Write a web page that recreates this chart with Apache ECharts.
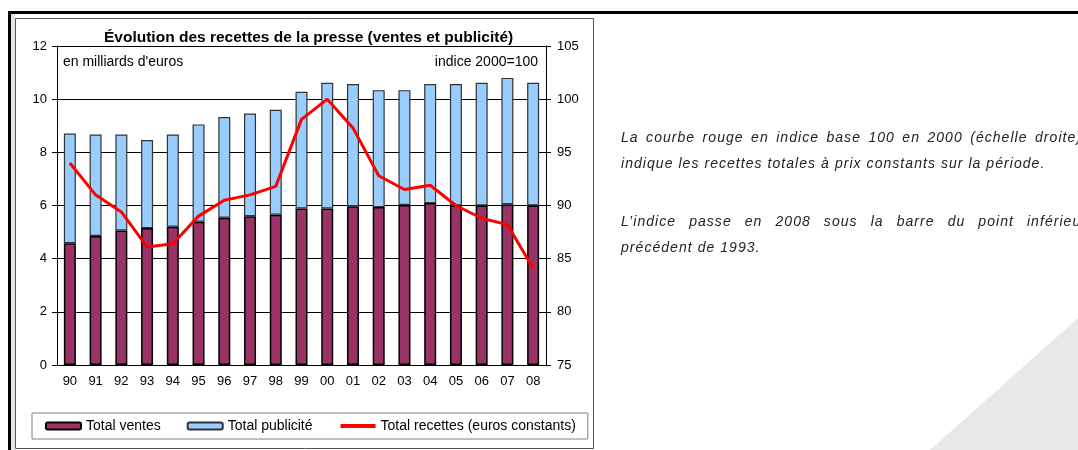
<!DOCTYPE html>
<html>
<head>
<meta charset="utf-8">
<script src="https://cdn.jsdelivr.net/npm/echarts@6/dist/echarts.min.js"></script>
<style>
  html, body { margin: 0; padding: 0; background: #fff; overflow: hidden; }
  #main { position: absolute; left: 0; top: 0; width: 1078px; height: 450px; }
  #note {
    position: absolute; left: 621px; top: 124px; width: 466px;
    font-family: 'Liberation Sans', Arial, sans-serif; font-style: italic;
    font-size: 14px; letter-spacing: 1.05px; color: #222; line-height: 26px;
  }
  #note .j { text-align: justify; text-align-last: justify; white-space: nowrap; }
  #note .gap { height: 32px; }
</style>
</head>
<body>
<div id="main"></div>
<div id="note">
  <div class="j">La courbe rouge en indice base 100 en 2000 (échelle droite),</div>
  <div>indique les recettes totales à prix constants sur la période.</div>
  <div class="gap"></div>
  <div class="j">L’indice passe en 2008 sous la barre du point inférieur</div>
  <div>précédent de 1993.</div>
</div>
<script>
// années
var years = ['90', '91', '92', '93', '94', '95', '96', '97', '98', '99',
             '00', '01', '02', '03', '04', '05', '06', '07', '08'];
// milliards d'euros
var ventes = [4.58, 4.85, 5.06, 5.15, 5.2, 5.39, 5.54, 5.6, 5.65, 5.89,
              5.89, 5.97, 5.94, 6.02, 6.09, 6.0, 6.0, 6.05, 6.0];
var publicite = [4.13, 3.82, 3.61, 3.31, 3.47, 3.66, 3.79, 3.86, 3.95, 4.39,
                 4.73, 4.6, 4.4, 4.32, 4.48, 4.57, 4.62, 4.75, 4.62];
// indice 2000=100, euros constants
var recettes = [94.0, 91.0, 89.4, 86.1, 86.4, 89.0, 90.5, 91.0, 91.8, 98.1,
                100.0, 97.3, 92.8, 91.5, 91.9, 90.0, 88.8, 88.2, 84.1];

var font = "'Liberation Sans', Arial, sans-serif";

var myChart = echarts.init(document.getElementById('main'));
var option = {
    animation: false,
    textStyle: {fontFamily: font},
    graphic: [
        // fond décoratif
        {type: 'polygon', silent: true, z: -10,
         shape: {points: [[930, 450], [1078, 318], [1078, 450]]},
         style: {fill: '#e8e8e8'}},
        // cadre
        {type: 'line', shape: {x1: 8, y1: 12.5, x2: 1078, y2: 12.5},
         style: {stroke: '#000', lineWidth: 3}},
        {type: 'line', shape: {x1: 9.5, y1: 11, x2: 9.5, y2: 450},
         style: {stroke: '#000', lineWidth: 3}},
        {type: 'rect', shape: {x: 11, y: 14, width: 4, height: 436},
         style: {fill: '#e4e4e4'}},
        {type: 'rect', shape: {x: 15.5, y: 18.5, width: 578, height: 430},
         style: {fill: 'none', stroke: '#555', lineWidth: 1}},
        // titres
        {type: 'text', left: 104, top: 30,
         style: {text: 'Évolution des recettes de la presse (ventes et publicité)',
                 font: 'bold 15.5px ' + font, fill: '#000'}},
        {type: 'text', left: 63, top: 55,
         style: {text: "en milliards d'euros", font: '14px ' + font, fill: '#000'}},
        {type: 'text', right: 1078 - 538, top: 55,
         style: {text: 'indice 2000=100', font: '14px ' + font, fill: '#000'}}
    ],
    legend: {
        left: 32, top: 413,
        borderColor: '#808080', borderWidth: 1,
        padding: [6, 12, 6, 13],
        itemWidth: 35, itemHeight: 7, itemGap: 26,
        textStyle: {fontSize: 14, color: '#000', fontFamily: font},
        data: [
            'Total ventes',
            'Total publicité',
            {name: 'Total recettes (euros constants)',
             itemStyle: {opacity: 0},
             lineStyle: {width: 4, color: '#ff0000'}}
        ]
    },
    grid: {left: 57, right: 1078 - 546, top: 46, bottom: 450 - 365},
    xAxis: {
        type: 'category',
        data: years,
        axisLine: {lineStyle: {color: '#000', width: 1}},
        axisTick: {length: 5, lineStyle: {color: '#000'}},
        axisLabel: {color: '#000', fontSize: 13, margin: 10}
    },
    yAxis: [
        {
            type: 'value', min: 0, max: 12, interval: 2,
            axisLine: {show: true, lineStyle: {color: '#000'}},
            axisTick: {show: true, length: 5, lineStyle: {color: '#000'}},
            axisLabel: {color: '#000', fontSize: 13, margin: 10},
            splitLine: {lineStyle: {color: '#000', width: 1}}
        },
        {
            type: 'value', min: 75, max: 105, interval: 5,
            axisLine: {show: true, lineStyle: {color: '#000'}},
            axisTick: {show: true, length: 5, lineStyle: {color: '#000'}},
            axisLabel: {color: '#000', fontSize: 13, margin: 11},
            splitLine: {show: false}
        }
    ],
    series: [
        {
            name: 'Total ventes', type: 'bar', stack: 'total',
            barWidth: 12, data: ventes,
            itemStyle: {color: '#993366', borderColor: '#000', borderWidth: 1.5}
        },
        {
            name: 'Total publicité', type: 'bar', stack: 'total',
            barWidth: 12, data: publicite,
            itemStyle: {color: '#99ccff', borderColor: '#333', borderWidth: 1.2}
        },
        {
            name: 'Total recettes (euros constants)', type: 'line', yAxisIndex: 1,
            data: recettes, symbol: 'none', z: 5,
            lineStyle: {color: '#ff0000', width: 3},
            itemStyle: {color: '#ff0000'}
        }
    ]
};
myChart.setOption(option);
</script>
</body>
</html>
